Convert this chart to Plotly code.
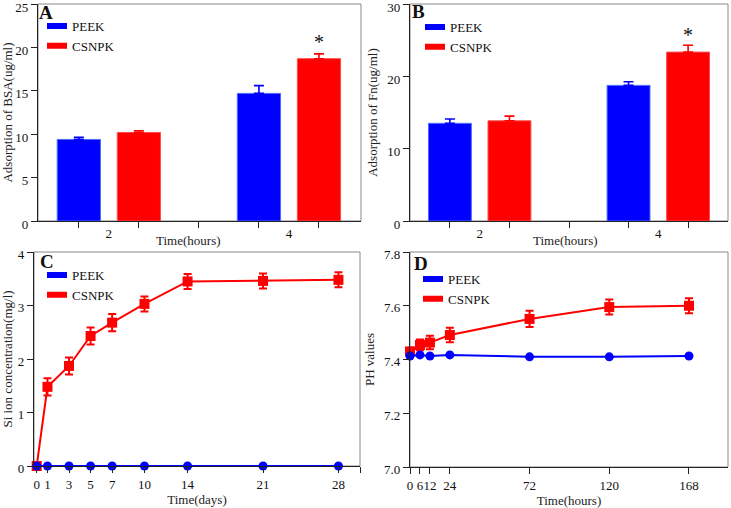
import plotly.graph_objects as go

# ---------------- data ----------------
bar_categories = ["2", "4"]          # Time (hours)
bsa_peek = [9.4, 14.7]
bsa_peek_err = [0.25, 0.9]
bsa_csnpk = [10.2, 18.7]
bsa_csnpk_err = [0.2, 0.55]

fn_peek = [13.5, 18.75]
fn_peek_err = [0.6, 0.5]
fn_csnpk = [13.85, 23.35]
fn_csnpk_err = [0.65, 0.95]

si_days = [0, 1, 3, 5, 7, 10, 14, 21, 28]
si_peek = [0, 0, 0, 0, 0, 0, 0, 0, 0]
si_csnpk = [0, 1.48, 1.87, 2.43, 2.68, 3.03, 3.45, 3.46, 3.48]
si_csnpk_err = [0, 0.16, 0.16, 0.16, 0.16, 0.14, 0.14, 0.14, 0.14]

ph_hours = [0, 6, 12, 24, 72, 120, 168]
ph_peek = [7.413, 7.417, 7.413, 7.417, 7.41, 7.41, 7.413]
ph_csnpk = [7.43, 7.454, 7.463, 7.491, 7.551, 7.595, 7.60]
ph_csnpk_err = [0.015, 0.02, 0.025, 0.027, 0.03, 0.028, 0.028]

series_names = ["PEEK", "CSNPK"]
BLUE = "#0000FF"
RED = "#FF0000"
FONT = "Liberation Serif"

W, H = 731, 508

def xd(a, b):
    return [a / W, b / W]

def yd(top, bottom):
    return [1 - bottom / H, 1 - top / H]

fig = go.Figure()

# bar positions derived from category index
peek_pos = [3 * i for i in range(len(bar_categories))]
csnpk_pos = [3 * i + 1 for i in range(len(bar_categories))]
label_pos = [3 * i + 0.5 for i in range(len(bar_categories))]

def add_bars(xa, ya, peek, peek_err, csn, csn_err):
    fig.add_trace(go.Bar(x=peek_pos, y=peek, width=0.72, marker=dict(color=BLUE, line=dict(color="#4d6bff", width=1)),
                         error_y=dict(type="data", array=peek_err, arrayminus=[0] * len(peek), symmetric=False,
                                      color=BLUE, thickness=1.6, width=5),
                         xaxis=xa, yaxis=ya, showlegend=False, name="PEEK"))
    fig.add_trace(go.Bar(x=csnpk_pos, y=csn, width=0.72, marker=dict(color=RED, line=dict(color="#ff4d4d", width=1)),
                         error_y=dict(type="data", array=csn_err, arrayminus=[0] * len(csn), symmetric=False,
                                      color=RED, thickness=1.6, width=5),
                         xaxis=xa, yaxis=ya, showlegend=False, name="CSNPK"))

add_bars("x", "y", bsa_peek, bsa_peek_err, bsa_csnpk, bsa_csnpk_err)
add_bars("x2", "y2", fn_peek, fn_peek_err, fn_csnpk, fn_csnpk_err)

# C
fig.add_trace(go.Scatter(x=si_days, y=si_csnpk, mode="lines+markers", xaxis="x3", yaxis="y3",
                         line=dict(color=RED, width=2), marker=dict(symbol="square", size=10, color=RED),
                         error_y=dict(type="data", array=si_csnpk_err, color=RED, thickness=2, width=4),
                         cliponaxis=False, showlegend=False, name="CSNPK"))
fig.add_trace(go.Scatter(x=si_days, y=si_peek, mode="lines+markers", xaxis="x3", yaxis="y3",
                         line=dict(color=BLUE, width=2), marker=dict(symbol="circle", size=9, color=BLUE),
                         cliponaxis=False, showlegend=False, name="PEEK"))
# D
fig.add_trace(go.Scatter(x=ph_hours, y=ph_csnpk, mode="lines+markers", xaxis="x4", yaxis="y4",
                         line=dict(color=RED, width=2), marker=dict(symbol="square", size=10, color=RED),
                         error_y=dict(type="data", array=ph_csnpk_err, color=RED, thickness=2, width=4),
                         cliponaxis=False, showlegend=False, name="CSNPK"))
fig.add_trace(go.Scatter(x=ph_hours, y=ph_peek, mode="lines+markers", xaxis="x4", yaxis="y4",
                         line=dict(color=BLUE, width=2), marker=dict(symbol="circle", size=9, color=BLUE),
                         cliponaxis=False, showlegend=False, name="PEEK"))

# legend-only traces (rectangle swatches)
legends = ["legend", "legend2", "legend3", "legend4"]
axes_pairs = [("x", "y"), ("x2", "y2"), ("x3", "y3"), ("x4", "y4")]
for lg, (xa, ya) in zip(legends, axes_pairs):
    for nm, col in zip(series_names, [BLUE, RED]):
        fig.add_trace(go.Scatter(x=[None], y=[None], mode="lines", name=nm, xaxis=xa, yaxis=ya,
                                 line=dict(color=col, width=6, dash="0px,10px,20px"),
                                 legend=lg, showlegend=True))

tickfont = dict(family=FONT, size=13, color="#111")
titlefont = dict(family=FONT, size=13, color="#222")

def axis_common(**kw):
    d = dict(showline=True, linecolor="#222", linewidth=1.2, ticks="outside", ticklen=6,
             tickcolor="#222", tickfont=tickfont, showgrid=False, zeroline=False, fixedrange=True,
             tickangle=0, automargin=False, ticklabeloverflow="allow", title=dict(font=titlefont))
    d.update(kw)
    return d

def yaxis_common(shift=2, **kw):
    d = axis_common(ticklabelshift=shift)
    d.update(kw)
    return d

layout = dict(
    width=W, height=H, autosize=False, margin=dict(l=0, r=0, t=0, b=0, pad=0, autoexpand=False),
    paper_bgcolor="white", plot_bgcolor="white", showlegend=True,
    font=dict(family=FONT, size=13, color="#111"),
    barmode="overlay",
)

# A
layout["xaxis"] = axis_common(domain=xd(38, 361), anchor="y", range=[-0.68, 4.70],
                              tickvals=label_pos, ticktext=bar_categories, ticklen=0,
                              tickcolor="rgba(0,0,0,0)",
                              minor=dict(tickvals=[0, 1, 2, 3, 4], ticks="outside", ticklen=6, tickcolor="#222"))
layout["yaxis"] = yaxis_common(shift=3, domain=yd(4, 221), anchor="x", range=[0, 25], tickvals=[0, 5, 10, 15, 20, 25],
                               title=dict(text="Adsorption of BSA(ug/ml)", font=titlefont, standoff=6))
# B
layout["xaxis2"] = axis_common(domain=xd(410, 728), anchor="y2", range=[-0.67, 4.67],
                               tickvals=label_pos, ticktext=bar_categories, ticklen=0,
                               tickcolor="rgba(0,0,0,0)",
                               minor=dict(tickvals=[0, 1, 2, 3, 4], ticks="outside", ticklen=6, tickcolor="#222"))
layout["yaxis2"] = yaxis_common(shift=3, domain=yd(4, 221), anchor="x2", range=[0, 30], tickvals=[0, 10, 20, 30],
                                title=dict(text="Adsorption of Fn(ug/ml)", font=titlefont, standoff=6))
# C
c_ticks = si_days + [30]
layout["xaxis3"] = axis_common(domain=xd(34, 360), anchor="y3", range=[-0.25, 30],
                               tickvals=c_ticks, ticktext=[str(d) for d in si_days] + [""],
                               title=dict(text="Time(days)", font=titlefont, standoff=2))
layout["yaxis3"] = yaxis_common(domain=yd(252, 466), anchor="x3", range=[0, 4], tickvals=[0, 1, 2, 3, 4],
                                title=dict(text="Si ion concentration(mg/l)", font=titlefont, standoff=6))
# D
layout["xaxis4"] = axis_common(domain=xd(410, 728), anchor="y4", range=[0, 191.5],
                               tickvals=ph_hours, ticktext=[str(h) for h in ph_hours],
                               title=dict(text="Time(hours)", font=titlefont, standoff=2))
layout["yaxis4"] = yaxis_common(domain=yd(252, 467), anchor="x4", range=[7.0, 7.8],
                                tickvals=[7.0, 7.2, 7.4, 7.6, 7.8], tickformat=".1f",
                                title=dict(text="PH values", font=titlefont, standoff=6))

leg_common = dict(bgcolor="rgba(0,0,0,0)", borderwidth=0, font=dict(family=FONT, size=13, color="#111"),
                  xanchor="left", yanchor="top", tracegroupgap=0, itemclick=False, itemdoubleclick=False)
layout["legend"] = dict(leg_common, x=32 / W, y=1 - 11 / H)
layout["legend2"] = dict(leg_common, x=410 / W, y=1 - 12 / H)
layout["legend3"] = dict(leg_common, x=32 / W, y=1 - 260 / H)
layout["legend4"] = dict(leg_common, x=408 / W, y=1 - 264 / H)

fig.update_layout(**layout)

# grey frame (top/right) around each panel
for xa, ya in axes_pairs:
    fig.add_shape(type="rect", xref=f"{xa} domain", yref=f"{ya} domain", x0=0, x1=1, y0=0, y1=1,
                  line=dict(color="#888", width=1), layer="below")

# x-axis titles of the bar panels (placed between the category labels)
fig.add_annotation(text="Time(hours)", x=188 / W, y=1 - 240 / H, xref="paper", yref="paper",
                   showarrow=False, font=titlefont, xanchor="center", yanchor="middle")
fig.add_annotation(text="Time(hours)", x=565 / W, y=1 - 240 / H, xref="paper", yref="paper",
                   showarrow=False, font=titlefont, xanchor="center", yanchor="middle")

# panel letters
for txt, px, py in [("A", 46, 13), ("B", 418, 12), ("C", 47, 261), ("D", 421, 263)]:
    fig.add_annotation(text=f"<b>{txt}</b>", x=px / W, y=1 - py / H, xref="paper", yref="paper",
                       showarrow=False, font=dict(family=FONT, size=19, color="#111"),
                       xanchor="center", yanchor="middle")

# significance stars
fig.add_annotation(text="*", x=csnpk_pos[1], y=bsa_csnpk[1] + bsa_csnpk_err[1], xref="x", yref="y",
                   showarrow=False, yanchor="bottom", yshift=-1, font=dict(family=FONT, size=20, color="#111"))
fig.add_annotation(text="*", x=csnpk_pos[1], y=fn_csnpk[1] + fn_csnpk_err[1], xref="x2", yref="y2",
                   showarrow=False, yanchor="bottom", yshift=-3, font=dict(family=FONT, size=20, color="#111"))

fig.write_html("out.html", config={"displayModeBar": False},
               post_script="document.body.style.margin='0';document.body.style.overflow='hidden';")
